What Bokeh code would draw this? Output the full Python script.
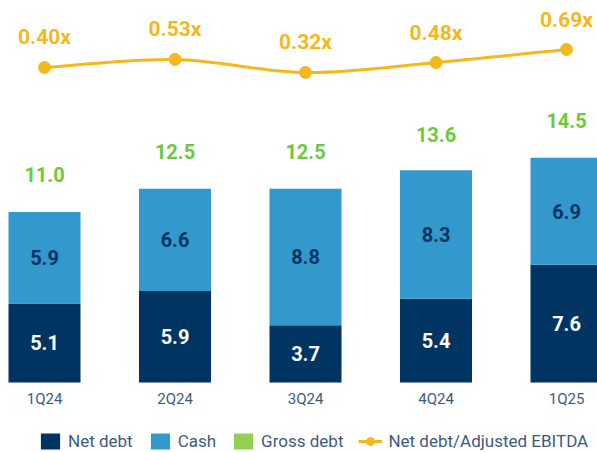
from bokeh.plotting import figure
from bokeh.models import Range1d, ColumnDataSource, Legend, LegendItem
from bokeh.core.properties import value
from bokeh.embed import file_html
from bokeh.resources import INLINE

quarters = ["1Q24", "2Q24", "3Q24", "4Q24", "1Q25"]
net_debt = [5.1, 5.9, 3.7, 5.4, 7.6]
cash = [5.9, 6.6, 8.8, 8.3, 6.9]
gross_debt = [11.0, 12.5, 12.5, 13.6, 14.5]
ratio = [0.40, 0.53, 0.32, 0.48, 0.69]

NAVY = "#003462"
BLUE = "#3399cc"
GREEN = "#92d050"
GREEN_TXT = "#6cc93a"
GOLD = "#f5b81c"
LABEL = "#3d5a7e"
FONT = value("Roboto")

xs = list(range(len(quarters)))
src = ColumnDataSource(dict(
    x=xs,
    zero=[0] * len(xs),
    quarter=quarters,
    net=net_debt,
    cash_top=[n + c for n, c in zip(net_debt, cash)],
    cash_mid=[n + c / 2 for n, c in zip(net_debt, cash)],
    net_mid=[n / 2 for n in net_debt],
    gross=gross_debt,
    net_txt=[f"{v:.1f}" for v in net_debt],
    cash_txt=[f"{v:.1f}" for v in cash],
    gross_txt=[f"{v:.1f}" for v in gross_debt],
    ratio=ratio,
    ratio_txt=[f"{v:.2f}x" for v in ratio],
))

# smooth curve (Catmull-Rom -> cubic Bezier) through the ratio points
n = len(xs)
def pt(i):
    i = max(0, min(n - 1, i))
    return xs[i], ratio[i]
bz = dict(x0=[], y0=[], x1=[], y1=[], cx0=[], cy0=[], cx1=[], cy1=[])
for i in range(n - 1):
    (xa, ya), (xb, yb) = pt(i), pt(i + 1)
    (xp, yp), (xn, yn) = pt(i - 1), pt(i + 2)
    bz["x0"].append(xa); bz["y0"].append(ya)
    bz["x1"].append(xb); bz["y1"].append(yb)
    bz["cx0"].append(xa + (xb - xp) / 6); bz["cy0"].append(ya + (yb - yp) / 6)
    bz["cx1"].append(xb - (xn - xa) / 6); bz["cy1"].append(yb - (yn - ya) / 6)

p = figure(width=597, height=452, output_backend="svg", toolbar_location=None,
           x_range=Range1d(-0.3372, 4.2375), y_range=Range1d(-4.516, 24.645),
           x_axis_location=None, y_axis_location=None, min_border=0)
p.extra_y_ranges = {"ratio": Range1d(-5.8097, 1.4806)}
p.outline_line_color = None
p.xgrid.visible = False
p.ygrid.visible = False
p.background_fill_color = "white"
p.border_fill_color = "white"

bw = 0.552
r_net = p.vbar(x="x", bottom=0, top="net", width=bw, source=src, fill_color=NAVY, line_color=None)
r_cash = p.vbar(x="x", bottom="net", top="cash_top", width=bw, source=src, fill_color=BLUE, line_color=None)
# gross debt level marker (zero height, only its legend swatch shows)
r_gross = p.vbar(x="x", bottom="gross", top="gross", width=bw, source=src, fill_color=GREEN, line_color=None)

p.text(x="x", y="net_mid", text="net_txt", source=src, text_align="center", text_baseline="middle",
       text_font=FONT, text_font_style="bold", text_font_size="20px", text_color="white")
p.text(x="x", y="cash_mid", text="cash_txt", source=src, text_align="center", text_baseline="middle",
       text_font=FONT, text_font_style="bold", text_font_size="20px", text_color=NAVY)
p.text(x="x", y="gross", text="gross_txt", source=src, text_align="center", text_baseline="middle",
       y_offset=-37, text_font=FONT, text_font_style="bold", text_font_size="20px", text_color=GREEN_TXT)

# category labels under the bars
p.text(x="x", y="zero", text="quarter", source=src, text_align="center", text_baseline="middle",
       y_offset=16, text_font=FONT, text_font_size="15px", text_color=LABEL)

r_curve = p.bezier(x0="x0", y0="y0", x1="x1", y1="y1", cx0="cx0", cy0="cy0", cx1="cx1", cy1="cy1",
                   source=ColumnDataSource(bz), y_range_name="ratio", line_color=GOLD, line_width=3)
r_pts = p.scatter(x="x", y="ratio", source=src, y_range_name="ratio", size=12,
                  fill_color=GOLD, line_color=GOLD)
p.text(x="x", y="ratio", text="ratio_txt", source=src, y_range_name="ratio", text_align="center",
       text_baseline="middle", y_offset=-30, text_font=FONT, text_font_style="bold",
       text_font_size="21px", text_color=GOLD)

legend = Legend(items=[
    LegendItem(label="Net debt", renderers=[r_net]),
    LegendItem(label="Cash", renderers=[r_cash]),
    LegendItem(label="Gross debt", renderers=[r_gross]),
    LegendItem(label="Net debt/Adjusted EBITDA", renderers=[r_curve, r_pts]),
], orientation="horizontal", location=(38, 1), padding=0, margin=0,
    glyph_width=24, glyph_height=20, label_standoff=6, spacing=15, label_height=20,
    label_text_font="Roboto", label_text_font_size="17px", label_text_color=LABEL,
    background_fill_alpha=0, border_line_color=None)
p.add_layout(legend, "center")

open("out.html", "w").write(file_html(p, INLINE))
